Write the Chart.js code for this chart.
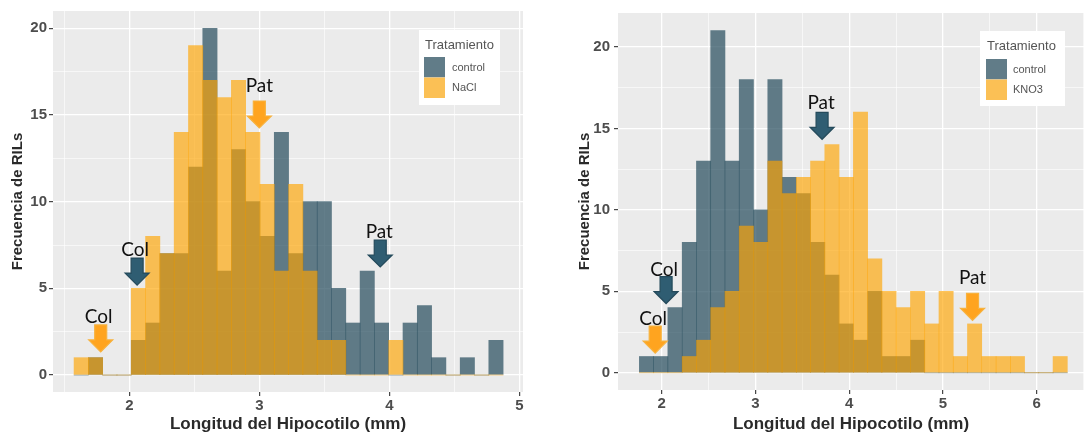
<!DOCTYPE html>
<html>
<head>
<meta charset="utf-8">
<script src="https://cdn.jsdelivr.net/npm/chart.js@4.4.1/dist/chart.umd.min.js"></script>
<style>
  html, body { margin: 0; padding: 0; background: #ffffff; }
  body { width: 1086px; height: 435px; position: relative; overflow: hidden; }
  .panel { position: absolute; top: 0; }
</style>
</head>
<body>
<div class="panel" style="left:0px"><canvas id="chartNaCl" width="540" height="435"></canvas></div>
<div class="panel" style="left:560px"><canvas id="chartKNO3" width="526" height="435"></canvas></div>
<script>
// ---- Hypocotyl length of RILs: 30-bin histograms, control vs. treatment ----

// NaCl experiment (bin width 0.11 mm)
const naclBinCenters = [1.63, 1.74, 1.85, 1.96, 2.07, 2.18, 2.29, 2.40, 2.51, 2.62,
                        2.73, 2.84, 2.95, 3.06, 3.17, 3.28, 3.39, 3.50, 3.61, 3.72,
                        3.83, 3.94, 4.05, 4.16, 4.27, 4.38, 4.49, 4.60, 4.71, 4.82];
const naclControlCounts = [0, 1, 0, 0, 2, 3, 7, 7, 12, 20,
                           6, 13, 10, 8, 14, 7, 10, 10, 5, 3,
                           6, 3, 0, 3, 4, 1, 0, 1, 0, 2];
const naclTreatedCounts = [1, 1, 0, 0, 5, 8, 7, 14, 19, 17,
                           16, 17, 14, 11, 6, 11, 6, 2, 2, 0,
                           0, 0, 2, 0, 0, 0, 0, 0, 0, 0];

// KNO3 experiment (bin width ~0.152 mm)
const kno3BinCenters = [1.837, 1.989, 2.141, 2.294, 2.446, 2.598, 2.750, 2.902, 3.055, 3.207,
                        3.359, 3.511, 3.663, 3.815, 3.968, 4.120, 4.272, 4.424, 4.576, 4.729,
                        4.881, 5.033, 5.185, 5.337, 5.490, 5.642, 5.794, 5.946, 6.098, 6.250];
const kno3ControlCounts = [1, 1, 4, 8, 13, 21, 13, 18, 10, 18,
                           12, 11, 8, 6, 3, 2, 5, 1, 1, 2,
                           0, 0, 0, 0, 0, 0, 0, 0, 0, 0];
const kno3TreatedCounts = [0, 0, 0, 1, 2, 4, 5, 9, 8, 13,
                           11, 12, 13, 14, 12, 16, 7, 5, 4, 5,
                           3, 5, 1, 3, 1, 1, 1, 0, 0, 1];

// Axis ticks and ranges
const yTickLabels = [0, 5, 10, 15, 20];
const naclXTickLabels = [2, 3, 4, 5];
const kno3XTickLabels = [2, 3, 4, 5, 6];
const naclXRange = [1.413, 5.028];
const naclYRange = [-0.98, 21.0];
const kno3XRange = [1.533, 6.504];
const kno3YRange = [-1.056, 22.08];

// Parental lines (Col, Pat) marked with arrows: x = mean length, y = arrow tip height
const naclMarkers = [
  { label: 'Pat', x: 3.00, y: 14.25, group: 'treated' },
  { label: 'Pat', x: 3.93, y: 6.23,  group: 'control' },
  { label: 'Col', x: 2.06, y: 5.19,  group: 'control' },
  { label: 'Col', x: 1.78, y: 1.33,  group: 'treated' }
];
const kno3Markers = [
  { label: 'Col', x: 2.046, y: 4.25,  group: 'control' },
  { label: 'Col', x: 1.93,  y: 1.21,  group: 'treated' },
  { label: 'Pat', x: 3.71,  y: 14.33, group: 'control' },
  { label: 'Pat', x: 5.315, y: 3.22,  group: 'treated' }
];

// ---- styling ----
const CONTROL_FILL = 'rgba(36, 74, 91, 0.70)';
const TREATED_FILL = 'rgba(255, 165, 0, 0.65)';
const ARROW_STYLE = {
  control: { fill: '#2F5D72', stroke: '#244A5B' },
  treated: { fill: '#FFA41F', stroke: '#F7B23E' }
};
const TICK_FONT = { family: '"Liberation Sans", Arial, sans-serif', size: 15, weight: 'bold' };

const nearMultiple = (v, m) => Math.abs(v / m - Math.round(v / m)) < 1e-6;

// grey panel behind the grid
const panelBackground = {
  id: 'panelBackground',
  beforeDraw(chart) {
    const { ctx, chartArea: a } = chart;
    ctx.save();
    ctx.fillStyle = '#EBEBEB';
    ctx.fillRect(a.left, a.top, a.right - a.left, a.bottom - a.top);
    ctx.restore();
  }
};

// block arrows with the parental line names above them
const parentArrows = {
  id: 'parentArrows',
  afterDatasetsDraw(chart, args, opts) {
    const { ctx } = chart;
    const xs = chart.scales.x, ys = chart.scales.y;
    const len = 27, headLen = 12, shaftW = 12, headW = 24;
    ctx.save();
    opts.markers.forEach((m, i) => {
      const tx = xs.getPixelForValue(m.x);
      const ty = ys.getPixelForValue(m.y);
      const top = ty - len, neck = ty - headLen;
      const st = ARROW_STYLE[m.group];
      ctx.beginPath();
      ctx.moveTo(tx - shaftW / 2, top);
      ctx.lineTo(tx + shaftW / 2, top);
      ctx.lineTo(tx + shaftW / 2, neck);
      ctx.lineTo(tx + headW / 2, neck);
      ctx.lineTo(tx, ty);
      ctx.lineTo(tx - headW / 2, neck);
      ctx.lineTo(tx - shaftW / 2, neck);
      ctx.closePath();
      ctx.fillStyle = st.fill;
      ctx.fill();
      ctx.lineWidth = 1.2;
      ctx.strokeStyle = st.stroke;
      ctx.stroke();

      ctx.fillStyle = '#111111';
      ctx.font = '19px Lato, "Open Sans", sans-serif';
      ctx.textAlign = 'center';
      ctx.textBaseline = 'alphabetic';
      ctx.fillText(m.label, tx + opts.labelShift[i], top - opts.labelGap[i]);
    });
    ctx.restore();
  }
};

// legend box inside the panel
const treatmentKey = {
  id: 'treatmentKey',
  afterDraw(chart, args, o) {
    const { ctx, chartArea: a } = chart;
    const x = a.right - o.offsetRight - o.width;
    const y = a.top + o.offsetTop;
    ctx.save();
    ctx.fillStyle = '#FFFFFF';
    ctx.fillRect(x, y, o.width, o.height);
    ctx.fillStyle = '#555555';
    ctx.font = '13px "Liberation Sans", Arial, sans-serif';
    ctx.textAlign = 'left';
    ctx.textBaseline = 'middle';
    ctx.fillText(o.title, x + o.keyLeft + 1, y + 15);
    chart.data.datasets.forEach((ds, i) => {
      const ky = y + o.keyTop + i * 20.5;
      ctx.fillStyle = '#F2F2F2';
      ctx.fillRect(x + o.keyLeft, ky, 21, 20.5);
      ctx.fillStyle = ds.backgroundColor;
      ctx.fillRect(x + o.keyLeft, ky, 21, 20.5);
      ctx.fillStyle = '#555555';
      ctx.font = '11px "Liberation Sans", Arial, sans-serif';
      ctx.fillText(ds.label, x + 33, ky + 10.5);
    });
    ctx.restore();
  }
};

function makeHistogram(canvasId, cfg) {
  const toPoints = (vals) => cfg.centers.map((c, i) => ({ x: c, y: vals[i] }));
  return new Chart(document.getElementById(canvasId), {
    type: 'bar',
    data: {
      datasets: [
        { label: 'control', data: toPoints(cfg.control), backgroundColor: CONTROL_FILL,
          borderWidth: 0, order: 1, grouped: false, barPercentage: 1, categoryPercentage: 1 },
        { label: cfg.treatment, data: toPoints(cfg.treated), backgroundColor: TREATED_FILL,
          borderWidth: 0, order: 0, grouped: false, barPercentage: 1, categoryPercentage: 1 }
      ]
    },
    options: {
      responsive: false,
      devicePixelRatio: 1,
      animation: false,
      layout: { padding: cfg.padding },
      scales: {
        x: {
          type: 'linear',
          min: cfg.xRange[0], max: cfg.xRange[1],
          offset: false,
          border: { display: false },
          grid: {
            offset: false,
            color: '#FFFFFF',
            lineWidth: (c) => nearMultiple(c.tick.value, 1) ? 1.3 : 0.6,
            tickColor: (c) => nearMultiple(c.tick.value, 1) ? '#333333' : 'rgba(0,0,0,0)',
            tickLength: 4, tickWidth: 1.1
          },
          ticks: {
            stepSize: 0.5, includeBounds: false, autoSkip: false, maxRotation: 0,
            padding: 1, color: '#4D4D4D', font: TICK_FONT,
            callback: (v) => cfg.xTicks.some(t => Math.abs(t - v) < 1e-6) ? String(v) : ''
          },
          title: {
            display: true, text: 'Longitud del Hipocotilo (mm)', color: '#2A2A2A',
            font: { family: '"Liberation Sans", Arial, sans-serif', size: 17, weight: 'bold' },
            padding: { top: 0, bottom: 0 }
          },
          afterFit: (s) => { s.height = cfg.xAxisHeight; }
        },
        y: {
          type: 'linear',
          min: cfg.yRange[0], max: cfg.yRange[1],
          border: { display: false },
          grid: {
            color: '#FFFFFF',
            lineWidth: (c) => nearMultiple(c.tick.value, 5) ? 1.3 : 0.6,
            tickColor: (c) => nearMultiple(c.tick.value, 5) ? '#333333' : 'rgba(0,0,0,0)',
            tickLength: 4, tickWidth: 1.1
          },
          ticks: {
            stepSize: 2.5, includeBounds: false, autoSkip: false,
            padding: cfg.yTickPad, color: '#4D4D4D', font: TICK_FONT,
            callback: (v) => yTickLabels.some(t => Math.abs(t - v) < 1e-6) ? String(v) : ''
          },
          title: {
            display: true, text: 'Frecuencia de RILs', color: '#2A2A2A',
            font: { family: '"Liberation Sans", Arial, sans-serif', size: 15, weight: 'bold' },
            padding: { top: cfg.yTitlePad, bottom: 0 }
          },
          afterFit: (s) => { s.width = cfg.yAxisWidth; }
        }
      },
      plugins: {
        legend: { display: false },
        tooltip: { enabled: false },
        parentArrows: { markers: cfg.markers, labelGap: cfg.labelGap, labelShift: cfg.labelShift },
        treatmentKey: cfg.key
      }
    },
    plugins: [panelBackground, parentArrows, treatmentKey]
  });
}

makeHistogram('chartNaCl', {
  centers: naclBinCenters, control: naclControlCounts, treated: naclTreatedCounts,
  treatment: 'NaCl', xRange: naclXRange, yRange: naclYRange, xTicks: naclXTickLabels,
  padding: { left: 0, top: 11, right: 17, bottom: 0 },
  xAxisHeight: 43, yAxisWidth: 53, yTickPad: 2, yTitlePad: 9,
  markers: naclMarkers, labelGap: [9, 2, 2, 2], labelShift: [0, -1, -2, -2],
  key: { title: 'Tratamiento', width: 81, height: 75, offsetRight: 23, offsetTop: 19, keyLeft: 5, keyTop: 27 }
});

makeHistogram('chartKNO3', {
  centers: kno3BinCenters, control: kno3ControlCounts, treated: kno3TreatedCounts,
  treatment: 'KNO3', xRange: kno3XRange, yRange: kno3YRange, xTicks: kno3XTickLabels,
  padding: { left: 0, top: 11, right: 2, bottom: 0 },
  xAxisHeight: 45, yAxisWidth: 58, yTickPad: 4, yTitlePad: 16,
  markers: kno3Markers, labelGap: [1, 1, 3, 9], labelShift: [-2, -2, -1, 0],
  key: { title: 'Tratamiento', width: 85, height: 75, offsetRight: 19, offsetTop: 18, keyLeft: 6, keyTop: 28 }
});
</script>
</body>
</html>
